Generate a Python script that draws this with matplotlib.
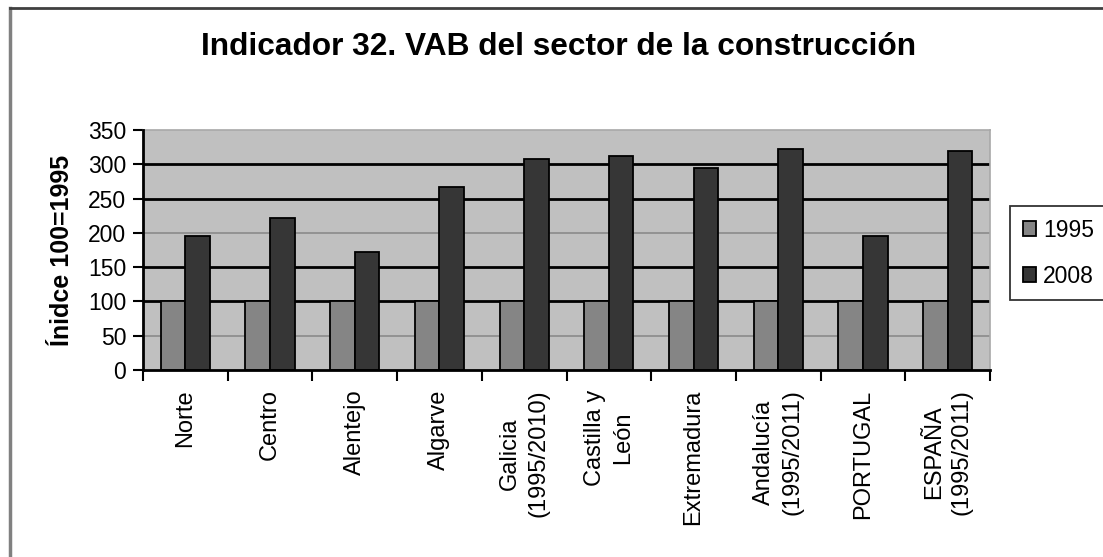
import matplotlib
matplotlib.use("Agg")
import matplotlib.pyplot as plt
from matplotlib.lines import Line2D
import numpy as np

plt.rcParams['font.family'] = ['Liberation Sans', 'DejaVu Sans']

categories = ['Norte', 'Centro', 'Alentejo', 'Algarve', 'Galicia\n(1995/2010)',
              'Castilla y\nLeón', 'Extremadura', 'Andalucía\n(1995/2011)',
              'PORTUGAL', 'ESPAÑA\n(1995/2011)']
v1995 = [100, 100, 100, 100, 100, 100, 100, 100, 100, 100]
v2008 = [195, 221, 172, 267, 308, 312, 294, 323, 195, 319]
yticks = [0, 50, 100, 150, 200, 250, 300, 350]

W, H = 1103, 557
fig = plt.figure(figsize=(W / 100, H / 100), dpi=100)
ax = fig.add_axes([143 / W, 1 - 370 / H, (990 - 143) / W, (370 - 130) / H])
ax.set_facecolor('#c0c0c0')

# outer chart frame (cut off at right and bottom like the scan)
fig.add_artist(Line2D([10 / W, 10 / W], [0, 1 - 8 / H], color='#808080', lw=2.5,
                      transform=fig.transFigure))
fig.add_artist(Line2D([10 / W, 1], [1 - 8 / H, 1 - 8 / H], color='#404040', lw=2,
                      transform=fig.transFigure))

# grid lines: some come out grey in the original
for v in yticks[1:-1]:
    if v in (50, 200):
        ax.axhline(v, color='#8a8a8a', lw=1.2, zorder=1)
    else:
        ax.axhline(v, color='black', lw=2, zorder=1)

x = np.arange(len(categories))
w = 0.29
ax.bar(x - w / 2, v1995, w, color='#858585', edgecolor='black', lw=1.3, zorder=3, label='1995')
ax.bar(x + w / 2, v2008, w, color='#363636', edgecolor='black', lw=1.3, zorder=3, label='2008')

ax.set_xlim(-0.5, len(categories) - 0.5)
ax.set_ylim(0, 350)
ax.set_yticks(yticks)
ax.tick_params(axis='y', labelsize=16.5, length=7, width=1.5, pad=5)

ax.set_xticks(x)
ax.set_xticklabels(categories, rotation=90, fontsize=17, va='top', ha='center',
                   multialignment='center', linespacing=1.35)
ax.set_xticks(np.arange(len(categories) + 1) - 0.5, minor=True)
ax.tick_params(axis='x', which='major', length=0, pad=14)
ax.tick_params(axis='x', which='minor', length=8, width=1.5)

for s in ['left', 'bottom']:
    ax.spines[s].set_linewidth(2)
    ax.spines[s].set_zorder(4)
for s in ['top', 'right']:
    ax.spines[s].set_color('#a8a8a8')
    ax.spines[s].set_linewidth(1.2)

ax.set_ylabel('Ínidce 100=1995', fontsize=18, fontweight='bold', labelpad=10)
fig.text(559 / W, 1 - 47 / H, 'Indicador 32. VAB del sector de la construcción',
         ha='center', va='center', fontsize=22.8, fontweight='bold')

leg = fig.legend(loc='upper left', bbox_to_anchor=(1010 / W, 1 - 206 / H),
                 borderaxespad=0, fontsize=16.5, frameon=True, fancybox=False,
                 edgecolor='black', handlelength=0.6, handleheight=0.6,
                 handletextpad=0.3, labelspacing=1.0, borderpad=0.55)
leg.get_frame().set_linewidth(1.3)

fig.savefig('out.png', dpi=100)
